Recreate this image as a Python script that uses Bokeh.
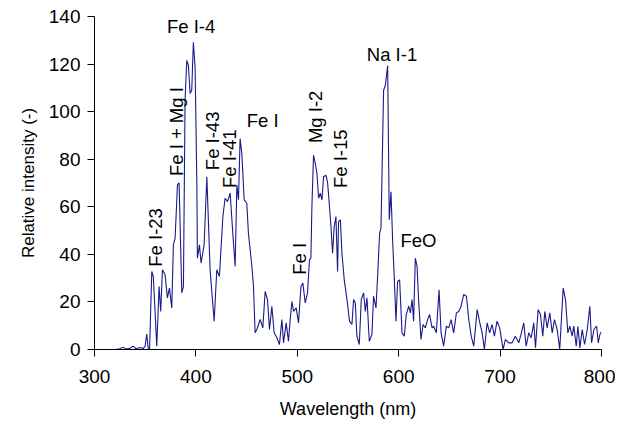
import numpy as np
from bokeh.plotting import figure
from bokeh.models import Range1d, FixedTicker, ColumnDataSource
from bokeh.core.properties import value
from bokeh.embed import file_html
from bokeh.resources import INLINE

wavelength = [300, 320, 325, 328, 331, 335, 338, 341, 345, 348, 350, 351.5, 353, 354.3, 356.5, 358,
              361.4, 363.7, 365.3, 367, 369.6, 371.9, 373.9, 376.2, 377.8, 379.5, 381.8, 383.4, 386.1,
              387.7, 389.3, 391, 392.6, 394.3, 395.9, 397.5, 399.2, 400.9, 401.5, 403.5, 405.1, 408.1,
              410.8, 414, 418, 420.6, 423.2, 426.6, 428.8, 431.1, 433.8, 436.4, 438.7, 440.4, 442,
              443.6, 445.3, 447.6, 450.2, 451.8, 453.5, 455.2, 456.8, 458.4, 460.1, 463.4, 466, 468.3,
              470.6, 472.6, 474.9, 477.2, 479.9, 482.4, 484.8, 486.4, 489, 491.3, 493, 494.7, 496.3,
              498.9, 501.2, 503.6, 505.5, 507.8, 510.1, 512, 513.4, 514.4, 516, 517.7, 519.4, 521,
              522.6, 524.3, 525.9, 528.2, 529.8, 531.5, 533.2, 534.8, 536.4, 538.1, 539.7, 540.7,
              542.5, 544, 546.3, 549, 551.5, 553.9, 555.5, 557.2, 558.8, 561.1, 563.1, 565.4, 567.1,
              568.7, 571, 573.6, 575.2, 577.6, 579.2, 581.2, 582.5, 584.1, 585.1, 586.8, 589.1, 590.7,
              592.4, 594, 595.7, 597.3, 598.9, 600.9, 603.3, 605.5, 607.5, 609.8, 611.5, 613.2, 614.7,
              616.4, 618.1, 619.6, 622, 624, 626.2, 628.5, 630.5, 632.9, 634.5, 637.1, 639.8, 641.8,
              644.3, 647, 649.3, 651.7, 654.2, 656.9, 659.2, 661.5, 664.1, 666.8, 669.1, 671.5, 674,
              677.4, 680, 682.3, 684.5, 687.2, 689.7, 692.1, 694.4, 697, 699.6, 702.9, 705.2, 708.5,
              711.8, 715.1, 718.4, 721, 723.3, 725.7, 728.3, 730.6, 733.2, 734.9, 737.5, 739.8, 742.1,
              744.1, 746.4, 749, 751.4, 753.6, 756.3, 758.8, 762.2, 764.5, 766.8, 768.8, 771.1, 772.7,
              775.1, 776.7, 778.7, 781, 783.3, 786, 788.5, 790.2, 792.5, 795.2, 796.8, 798.4, 800]

intensity = [0, 0, 0.3, 1, 0.2, 0.5, 1.4, 0.3, 0.8, 0.4, 1.5, 6.5, 0.5, 0, 32.8, 30.7,
             1.4, 26.5, 16, 33.5, 31.4, 21.7, 25.8, 17.5, 44, 46.8, 69.2, 70.1, 23.8,
             26.5, 104.8, 121.5, 119.4, 107.6, 109, 129.2, 118.7, 71.2, 38.4, 44, 36.3, 44,
             72.6, 33.5, 11.9, 33.5, 30.7, 55.9, 63.6, 62.2, 65.7, 48.9, 34.9, 69.2, 63,
             88.7, 82.4, 62.9, 61.5, 48.9, 41.9, 34.9, 26.5, 7, 8.4, 12.6, 9.1, 24.4,
             21, 8.4, 18.2, 7, 4.9, 2.1, 12.6, 2.8, 11.2, 3.5, 12.6, 20.2, 16,
             17.5, 11.2, 26.5, 27.9, 19.6, 23.8, 37.7, 38.4, 60, 81.7, 78.2, 74, 63.6,
             65.7, 62.9, 72.6, 73.3, 70.5, 61.5, 51.7, 40.5, 51.7, 55.9, 32.8, 53.8,
             54.5, 40.5, 29.3, 21, 11.9, 10.5, 21, 19.6, 5.6, 2.1, 21, 23.8, 16,
             21.7, 3.5, 6.3, 22.4, 17.5, 30.7, 48.9, 51, 86.6, 109, 111, 119.4, 54.5,
             66.3, 46.1, 29.3, 11.9, 28.6, 29.3, 7, 5.6, 14.7, 18.2, 15.4, 21, 11.9,
             38.4, 34.9, 21, 4.2, 10.5, 9.1, 12.6, 14.7, 9.1, 9.8, 7, 25.1, 7,
             1.4, 9.8, 9.1, 12.6, 7, 15.4, 16, 18.2, 23.1, 22.4, 12.6, 5.6, 1.4,
             16.8, 11.2, 7, 0, 11.2, 7, 10.5, 5.6, 11.9, 9.1, 0, 4.2, 2.8,
             2.8, 5.6, 2.8, 7, 11.2, 1.4, 7, 4.9, 11.2, 0.7, 16.8, 14.7, 5.6,
             16, 9.1, 15.4, 7, 12.6, 8.4, 0, 25.8, 21, 7, 9.8, 5.6, 9.8,
             1.4, 9.8, 0.7, 8.4, 2.1, 8.4, 18.2, 2.8, 8.4, 9.8, 2.8, 6.3, 7.5]

# annotations: horizontal labels
h_labels = ["Fe I-4", "Fe I", "Na I-1", "FeO"]
h_x = [395.3, 465.8, 593.4, 619.4]
h_y = [135.8, 96.4, 124.0, 45.7]

# rotated labels (text starts at the given point, reading upward)
v_labels = ["Fe I-23", "Fe I + Mg I", "Fe I-43", "Fe I-41", "Fe I", "Mg I-2", "Fe I-15"]
v_x = [359.7, 380.5, 416.5, 432.8, 501.9, 517.7, 542.8]
v_y = [34.8, 72.9, 75.4, 67.9, 31.4, 86.8, 67.9]

x_ticks = [300, 400, 500, 600, 700, 800]
y_ticks = [0, 20, 40, 60, 80, 100, 120, 140]

FONT = "Liberation Sans"

p = figure(width=615, height=421, output_backend="svg", toolbar_location=None,
           x_range=Range1d(300, 800), y_range=Range1d(0, 140),
           min_border_left=94, min_border_right=14, min_border_top=16, min_border_bottom=71)
p.outline_line_color = None
p.grid.visible = False
p.background_fill_color = "white"

p.line(wavelength, intensity, line_color="#1a1a8c", line_width=1.1)

hs = ColumnDataSource(dict(x=h_x, y=h_y, t=h_labels))
p.text(x="x", y="y", text="t", source=hs, text_align="center", text_baseline="middle",
       text_font=value(FONT), text_font_size="18.5px", text_color="black")
vs = ColumnDataSource(dict(x=v_x, y=v_y, t=v_labels))
p.text(x="x", y="y", text="t", source=vs, angle=np.pi / 2, text_align="left",
       text_baseline="middle", text_font=value(FONT), text_font_size="18.5px", text_color="black")

for ax in (p.xaxis[0], p.yaxis[0]):
    ax.axis_line_color = "black"
    ax.major_tick_line_color = "black"
    ax.major_tick_out = 7
    ax.major_tick_in = 0
    ax.minor_tick_line_color = None
    ax.major_label_text_font = FONT
    ax.major_label_text_font_size = "19px"
    ax.major_label_text_color = "black"
    ax.axis_label_text_font = FONT
    ax.axis_label_text_font_style = "normal"
    ax.axis_label_text_color = "black"

p.xaxis.ticker = FixedTicker(ticks=x_ticks)
p.yaxis.ticker = FixedTicker(ticks=y_ticks)
p.xaxis.axis_label = "Wavelength (nm)"
p.yaxis.axis_label = "Relative intensity (-)"
p.xaxis.axis_label_text_font_size = "18px"
p.yaxis.axis_label_text_font_size = "17px"
p.xaxis.major_label_standoff = 13
p.yaxis.major_label_standoff = 7
p.xaxis.axis_label_standoff = 13
p.yaxis.axis_label_standoff = 8

open("out.html", "w").write(file_html(p, INLINE))
